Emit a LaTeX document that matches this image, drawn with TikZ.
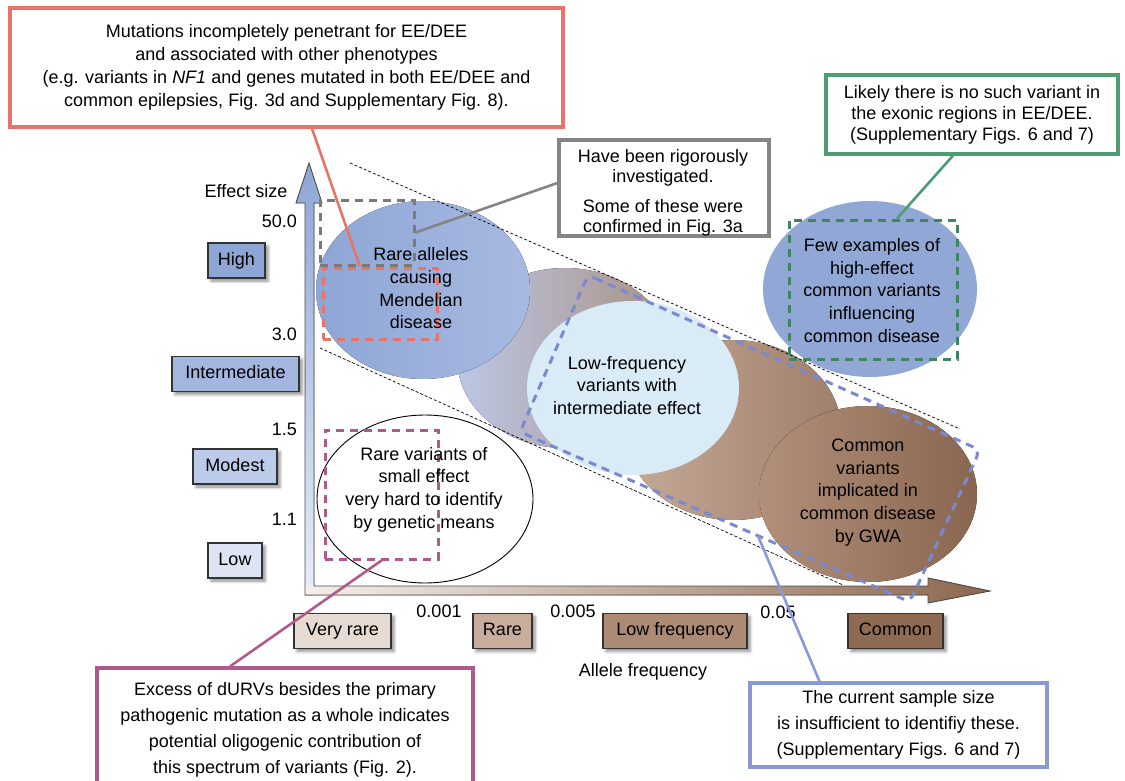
\documentclass[tikz,border=0pt]{standalone}
\usepackage{fontspec}
\setmainfont{Liberation Sans}
\usetikzlibrary{shadows.blur,calc}
\definecolor{redc}{HTML}{E8736A}
\definecolor{grayc}{HTML}{858585}
\definecolor{grayd}{HTML}{7A7A7A}
\definecolor{greenc}{HTML}{4E9C74}
\definecolor{greend}{HTML}{3F8563}
\definecolor{pinkc}{HTML}{B05A8C}
\definecolor{bluec}{HTML}{8A98D6}
\definecolor{blued}{HTML}{7A89D0}
\definecolor{catHigh}{HTML}{8EA6D5}
\definecolor{catInt}{HTML}{A3B6E0}
\definecolor{catMod}{HTML}{BDCBEA}
\definecolor{catLow}{HTML}{DDE5F5}
\definecolor{xVR}{HTML}{E7DAD1}
\definecolor{xR}{HTML}{C8AD9C}
\definecolor{xLF}{HTML}{AD8A74}
\definecolor{xC}{HTML}{906B53}
\definecolor{axTop}{HTML}{8DA6D5}
\definecolor{axBot}{HTML}{E8EEF9}
\definecolor{axL}{HTML}{F4EFEB}
\definecolor{axR}{HTML}{8D674F}
\definecolor{lightblue}{HTML}{D8EBF7}
\definecolor{fewblue}{HTML}{91A8D6}
\definecolor{sL}{HTML}{BCC7E6}
\definecolor{sM}{HTML}{C6CEEA}
\definecolor{sR}{HTML}{A99083}
\begin{document}
\begin{tikzpicture}[x=1pt,y=-1pt,
  font=\fontsize{18}{22.7}\selectfont,
  callout/.style={draw, line width=3.2pt, fill=white, align=center, inner sep=0pt},
  conn/.style={line width=2.6pt},
  dashbox/.style={draw, line width=3pt, dash pattern=on 8pt off 6pt, inner sep=0pt},
  guide/.style={black, line width=0.7pt, dash pattern=on 3pt off 2pt},
  catbox/.style={draw=black!80, line width=1.1pt, minimum height=35pt, text height=13pt, text depth=3.8pt,
    blur shadow={shadow xshift=3pt, shadow yshift=-3pt, shadow blur radius=3pt, shadow opacity=45}},
  ctext/.style={align=center, inner sep=0pt},
  tick/.style={anchor=east, inner sep=0pt},
  axisline/.style={draw=black!70, line width=0.9pt}
]
\useasboundingbox (0,0) rectangle (1125,781);

% ---- bubbles ----
\fill[left color=sL, middle color=sM, right color=sR] (565,358) ellipse [x radius=108pt, y radius=90pt];
\fill[left color=xR!90!xLF, right color=xLF!92!black] (733,430) ellipse [x radius=108pt, y radius=90pt];
\fill[left color=xLF!95!white, right color=xC!95!black] (868,494) ellipse [x radius=109pt, y radius=88pt];
\fill[left color=catHigh, right color=catInt!95!white] (423,290) ellipse [x radius=107pt, y radius=89pt];
\fill[lightblue] (633,388) ellipse [x radius=106pt, y radius=87pt];
\fill[fewblue] (870,289) ellipse [x radius=107pt, y radius=88pt];
\draw[black, line width=0.9pt, fill=white] (425,499) ellipse [x radius=108pt, y radius=84pt];

% ---- axes ----
\fill[top color=axTop, bottom color=axBot] (305,595) -- (305,203) -- (296,203) -- (309,163) -- (322,203) -- (314,203) -- (314,595) -- cycle;
\fill[left color=axL, right color=axR] (305,586) -- (928,586) -- (928,578) -- (990,591) -- (928,603) -- (928,595) -- (305,595) -- cycle;
\draw[axisline] (305,595) -- (305,203) -- (296,203) -- (309,163) -- (322,203) -- (314,203) -- (314,586) -- (928,586) -- (928,578) -- (990,591) -- (928,603) -- (928,595) -- cycle;

% ---- guide lines ----
\coordinate (ua) at (350,163);
\coordinate (ub) at (960,429);
\coordinate (la) at (320,348);
\coordinate (lb) at (843,585);
\draw[guide] (ua) -- (ub);
\draw[guide] (la) -- (lb);

% ---- dashed regions ----
\node[dashbox, draw=grayd, minimum width=94pt, minimum height=65pt] (gdash) at (367,232.5) {};
\node[dashbox, draw=redc, minimum width=114pt, minimum height=71pt] (rdash) at (380,303.5) {};
\node[dashbox, draw=pinkc, minimum width=113pt, minimum height=129pt] (pdash) at (381.5,494.5) {};
\node[dashbox, draw=greend, minimum width=168pt, minimum height=139pt] (gndash) at (873,289.5) {};
\coordinate (bA) at (588,275);
\coordinate (bB) at (980,450);
\coordinate (bC) at (910,602);
\coordinate (bD) at (520,432);
\draw[blued, line width=3pt, dash pattern=on 8pt off 6pt, rounded corners=8pt] (bA) -- (bB) -- (bC) -- (bD) -- cycle;
\coordinate (bConn) at ($(bD)!0.61!(bC)$);

% ---- bubble texts ----
\node[ctext] (t1) at (421,288.5) {Rare alleles\\causing\\Mendelian\\disease};
\node[ctext] (t2) at (627,385.5) {Low-frequency\\variants with\\intermediate effect};
\node[ctext] (t3) at (868,492.5) {Common\\variants\\implicated in\\common disease\\by GWA};
\node[ctext] (t4) at (872,290.5) {Few examples of\\high-effect\\common variants\\influencing\\common disease};
\node[ctext] (t5) at (424,489.5) {Rare variants of\\small effect\\very hard to identify\\by genetic means};

% ---- axis labels ----
\node[inner sep=0pt] (effsize) at (246,191) {Effect size};
\node[tick] (v50) at (297,221) {50.0};
\node[tick] (v3) at (297,334) {3.0};
\node[tick] (v15) at (297,429) {1.5};
\node[tick] (v11) at (297,519) {1.1};
\node[catbox, fill=catHigh, minimum width=57pt] (high) at (236.5,260.5) {High};
\node[catbox, fill=catInt, minimum width=127pt] (inter) at (235.5,374) {Intermediate};
\node[catbox, fill=catMod, minimum width=84pt] (modest) at (235,466.5) {Modest};
\node[catbox, fill=catLow, minimum width=54pt] (low) at (235,560.5) {Low};

\node[inner sep=0pt] (f1) at (439,611) {0.001};
\node[inner sep=0pt] (f2) at (573,611) {0.005};
\node[inner sep=0pt] (f3) at (778,612) {0.05};
\node[catbox, fill=xVR, minimum width=97pt] (vrare) at (342.5,631) {Very rare};
\node[catbox, fill=xR, minimum width=59pt] (rare) at (502.5,631) {Rare};
\node[catbox, fill=xLF, minimum width=144pt] (lowf) at (675,631) {Low frequency};
\node[catbox, fill=xC, minimum width=95pt] (common) at (895.5,631) {Common};
\node[inner sep=0pt] (allele) at (643,672) {Allele frequency};

% ---- callouts ----
\node[callout, draw=redc, minimum width=553pt, minimum height=119pt, font=\fontsize{18}{23.2}\selectfont] (redbox) at (286.5,67.5)
  {Mutations incompletely penetrant for EE/DEE\\and associated with other phenotypes\\(e.g. variants in \textit{NF1} and genes mutated in both EE/DEE and\\common epilepsies, Fig. 3d and Supplementary Fig. 8).};
\node[callout, draw=grayc, minimum width=210pt, minimum height=96pt] (graybox) at (664,188) {};
\node[ctext, font=\fontsize{18}{20}\selectfont] (graytext) at (663,193) {Have been rigorously\\investigated.\\[10pt]Some of these were\\confirmed in Fig. 3a};
\node[callout, draw=greenc, minimum width=292pt, minimum height=79pt, font=\fontsize{18}{21}\selectfont] (greenbox) at (972,114.5)
  {Likely there is no such variant in\\the exonic regions in EE/DEE.\\(Supplementary Figs. 6 and 7)};
\node[callout, draw=pinkc, minimum width=376pt, minimum height=124pt, font=\fontsize{18}{26}\selectfont] (pinkbox) at (285,730)
  {Excess of dURVs besides the primary\\pathogenic mutation as a whole indicates\\potential oligogenic contribution of\\this spectrum of variants (Fig. 2).};
\node[callout, draw=bluec, minimum width=297pt, minimum height=84pt, font=\fontsize{18}{26}\selectfont] (bluebox) at (898.5,725)
  {The current sample size\\is insufficient to identifiy these.\\(Supplementary Figs. 6 and 7)};

% ---- connectors ----
\draw[conn, redc] ([xshift=25.5pt]redbox.south) -- ([xshift=-20pt]rdash.north);
\draw[conn, grayc] ([yshift=5pt]graybox.west) -- (gdash.east);
\draw[conn, greenc] ([xshift=-19pt]greenbox.south) -- ([xshift=24pt]gndash.north);
\draw[conn, pinkc] (pdash.south) -- ([xshift=-55pt]pinkbox.north);
\draw[conn, bluec] (bConn) -- ([xshift=-79pt]bluebox.north);
\end{tikzpicture}
\end{document}
